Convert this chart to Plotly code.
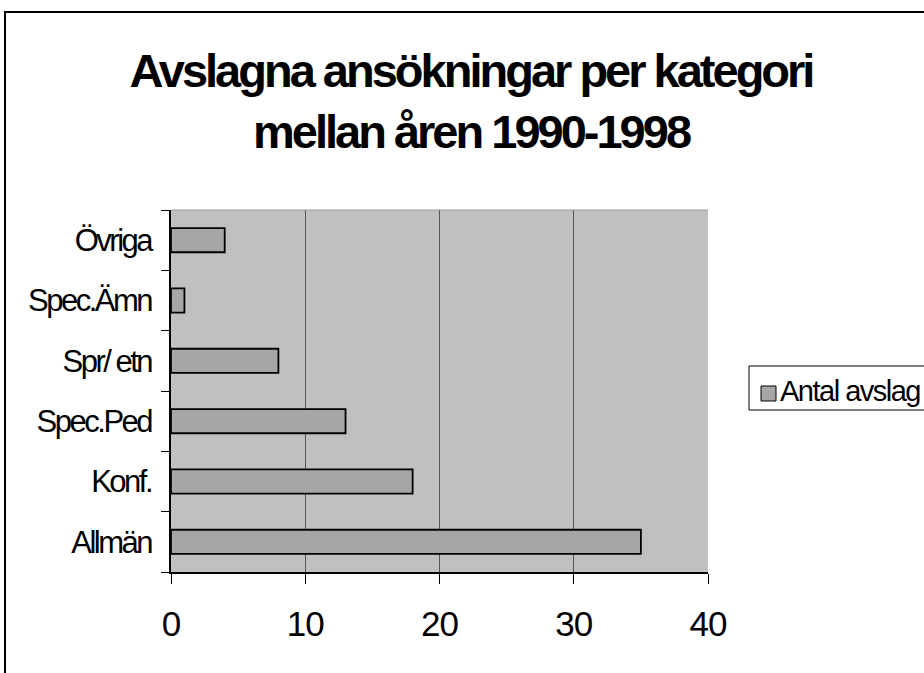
import plotly.graph_objects as go

categories = ["Allmän", "Konf.", "Spec.Ped", "Spr/ etn", "Spec.Ämn", "Övriga"]
values = [35, 18, 13, 8, 1, 4]
series_name = "Antal avslag"
x_ticks = [0, 10, 20, 30, 40]
title_lines = ["Avslagna ansökningar per kategori", "mellan åren 1990-1998"]

W, H = 924, 673
L, R, T, B = 171, 708, 210, 572
pw, ph = R - L, B - T

def px(x):
    return (x - L) / pw

def py(y):
    return (B - y) / ph

def sp(t, ls):
    return f'<span style="letter-spacing:{ls}px">{t}</span>'

FONT = "Liberation Sans, Arial, sans-serif"

fig = go.Figure()
fig.add_trace(go.Bar(
    y=categories, x=values, orientation="h", name=series_name,
    marker=dict(color="#A6A6A6", line=dict(color="#000000", width=1.8)),
    showlegend=False,
))

fig.update_layout(
    width=W, height=H,
    margin=dict(l=L, r=W - R, t=T, b=H - B, pad=0),
    paper_bgcolor="#FFFFFF",
    plot_bgcolor="#C0C0C0",
    bargap=0.6,
    title=dict(
        text="<b>" + "<br>".join(sp(t, -3.0) for t in title_lines) + "</b>",
        x=471 / W, xanchor="center", xref="container",
        y=1 - 87 / H, yanchor="top", yref="container",
        font=dict(family=FONT, size=47, color="#000000"),
    ),
    xaxis=dict(
        range=[0, 40], tickvals=x_ticks, ticktext=[sp(str(v), -1) for v in x_ticks],
        showgrid=True, gridcolor="#555555", gridwidth=1,
        showline=True, linecolor="#000000", linewidth=1.5,
        ticks="outside", ticklen=10, tickcolor="#000000", tickwidth=1,
        ticklabelstandoff=10,
        tickfont=dict(family=FONT, size=35, color="#000000"),
        zeroline=False, fixedrange=True,
    ),
    yaxis=dict(
        type="category", categoryorder="array", categoryarray=categories,
        tickvals=categories, ticktext=[sp(c, -2.5) for c in categories],
        tickson="boundaries",
        showgrid=False, showline=True, linecolor="#000000", linewidth=1.5,
        ticks="outside", ticklen=8, tickcolor="#000000", tickwidth=1,
        ticklabelstandoff=12,
        tickfont=dict(family=FONT, size=31, color="#000000"),
        zeroline=False, fixedrange=True,
    ),
    showlegend=False,
)

shapes = [
    # outer chart border (cropped at right/bottom)
    dict(type="rect", xref="paper", yref="paper",
         x0=px(5), x1=px(W + 30), y0=py(H + 30), y1=py(12),
         line=dict(color="#000000", width=2), fillcolor="rgba(0,0,0,0)", layer="below"),
    # top edge of plot area
    dict(type="line", xref="paper", yref="paper", x0=0, x1=1, y0=1, y1=1,
         line=dict(color="#9A9A9A", width=1)),
    # legend box
    dict(type="rect", xref="paper", yref="paper",
         x0=px(749), x1=px(W + 30), y0=py(410), y1=py(366),
         line=dict(color="#000000", width=1), fillcolor="#FFFFFF"),
    # legend swatch
    dict(type="rect", xref="paper", yref="paper",
         x0=px(761), x1=px(776), y0=py(401), y1=py(386),
         line=dict(color="#000000", width=1), fillcolor="#A6A6A6"),
]
fig.update_layout(shapes=shapes)
fig.add_annotation(
    xref="paper", yref="paper", x=px(778), y=py(391), xanchor="left", yanchor="middle",
    text=sp(series_name, -1.5), showarrow=False,
    font=dict(family=FONT, size=29, color="#000000"),
)

fig.write_html("out.html", config={"displayModeBar": False},
               post_script="document.body.style.margin='0px';")
